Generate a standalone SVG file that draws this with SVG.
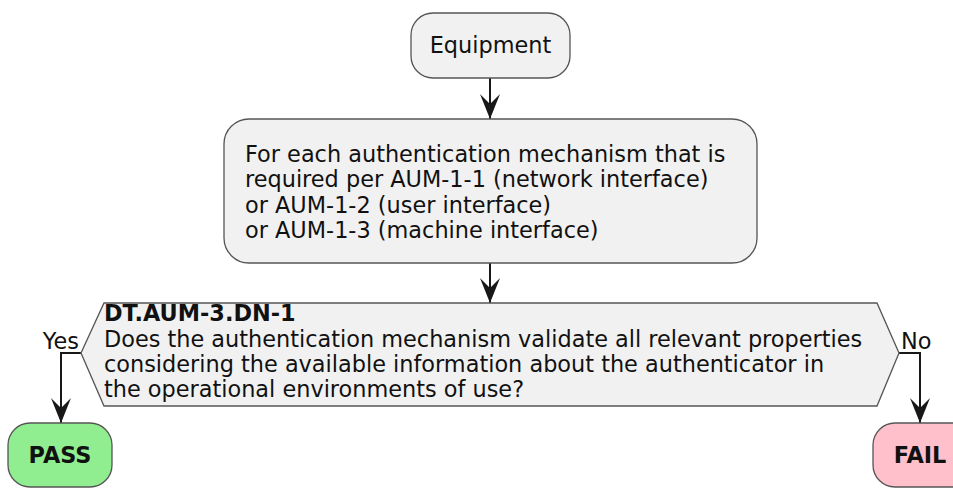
<svg xmlns="http://www.w3.org/2000/svg" width="953" height="489" viewBox="0 0 953 489">
  <defs>
    <marker id="arrow" viewBox="-26 -12 28 24" refX="0" refY="0" markerWidth="28" markerHeight="24" markerUnits="userSpaceOnUse" orient="auto">
      <path d="M0,0 L-25,-10 L-15,0 L-25,10 Z" fill="#181818"/>
    </marker>
    <style>
      .node { fill: #F1F1F1; stroke: #555555; stroke-width: 1.3; }
      .pass { fill: #90EE90; stroke: #555555; stroke-width: 1.3; }
      .fail { fill: #FFC0CB; stroke: #555555; stroke-width: 1.3; }
      .label { font-family: "DejaVu Sans", sans-serif; font-size: 22.4px; fill: #111111; }
      .bold { font-weight: bold; }
      .edge { fill: none; stroke: #181818; stroke-width: 2; marker-end: url(#arrow); }
    </style>
  </defs>
  <rect width="953" height="489" fill="#FFFFFF"/>

  <g id="connectors">
    <path class="edge" d="M490,78 L490,119"/>
    <path class="edge" d="M490,263 L490,303"/>
    <path class="edge" d="M81,353 L61,353 L61,423"/>
    <path class="edge" d="M899,353 L920,353 L920,423"/>
    <text class="label" x="79" y="349" text-anchor="end">Yes</text>
    <text class="label" x="901" y="349">No</text>
  </g>

  <g id="equipment">
    <rect class="node" x="411" y="13" width="159" height="65" rx="22" ry="22"/>
    <text class="label" x="490.5" y="53" text-anchor="middle">Equipment</text>
  </g>

  <g id="scope">
    <rect class="node" x="224" y="119" width="533" height="144" rx="25" ry="25"/>
    <text class="label" x="245" y="162">For each authentication mechanism that is</text>
    <text class="label" x="245" y="187">required per AUM-1-1 (network interface)</text>
    <text class="label" x="245" y="212.5">or AUM-1-2 (user interface)</text>
    <text class="label" x="245" y="238">or AUM-1-3 (machine interface)</text>
  </g>

  <g id="decision">
    <polygon class="node" points="81,353 104,303 877,303 899,353 877,406 104,406"/>
    <text class="label bold" x="104" y="321">DT.AUM-3.DN-1</text>
    <text class="label" x="104" y="347">Does the authentication mechanism validate all relevant properties</text>
    <text class="label" x="104" y="372">considering the available information about the authenticator in</text>
    <text class="label" x="104" y="397">the operational environments of use?</text>
  </g>

  <g id="pass">
    <rect class="pass" x="8" y="423" width="104" height="64" rx="22" ry="22"/>
    <text class="label bold" x="60" y="463" text-anchor="middle">PASS</text>
  </g>

  <g id="fail">
    <rect class="fail" x="873" y="423" width="104" height="64" rx="22" ry="22"/>
    <text class="label bold" x="920" y="463" text-anchor="middle">FAIL</text>
  </g>
</svg>
